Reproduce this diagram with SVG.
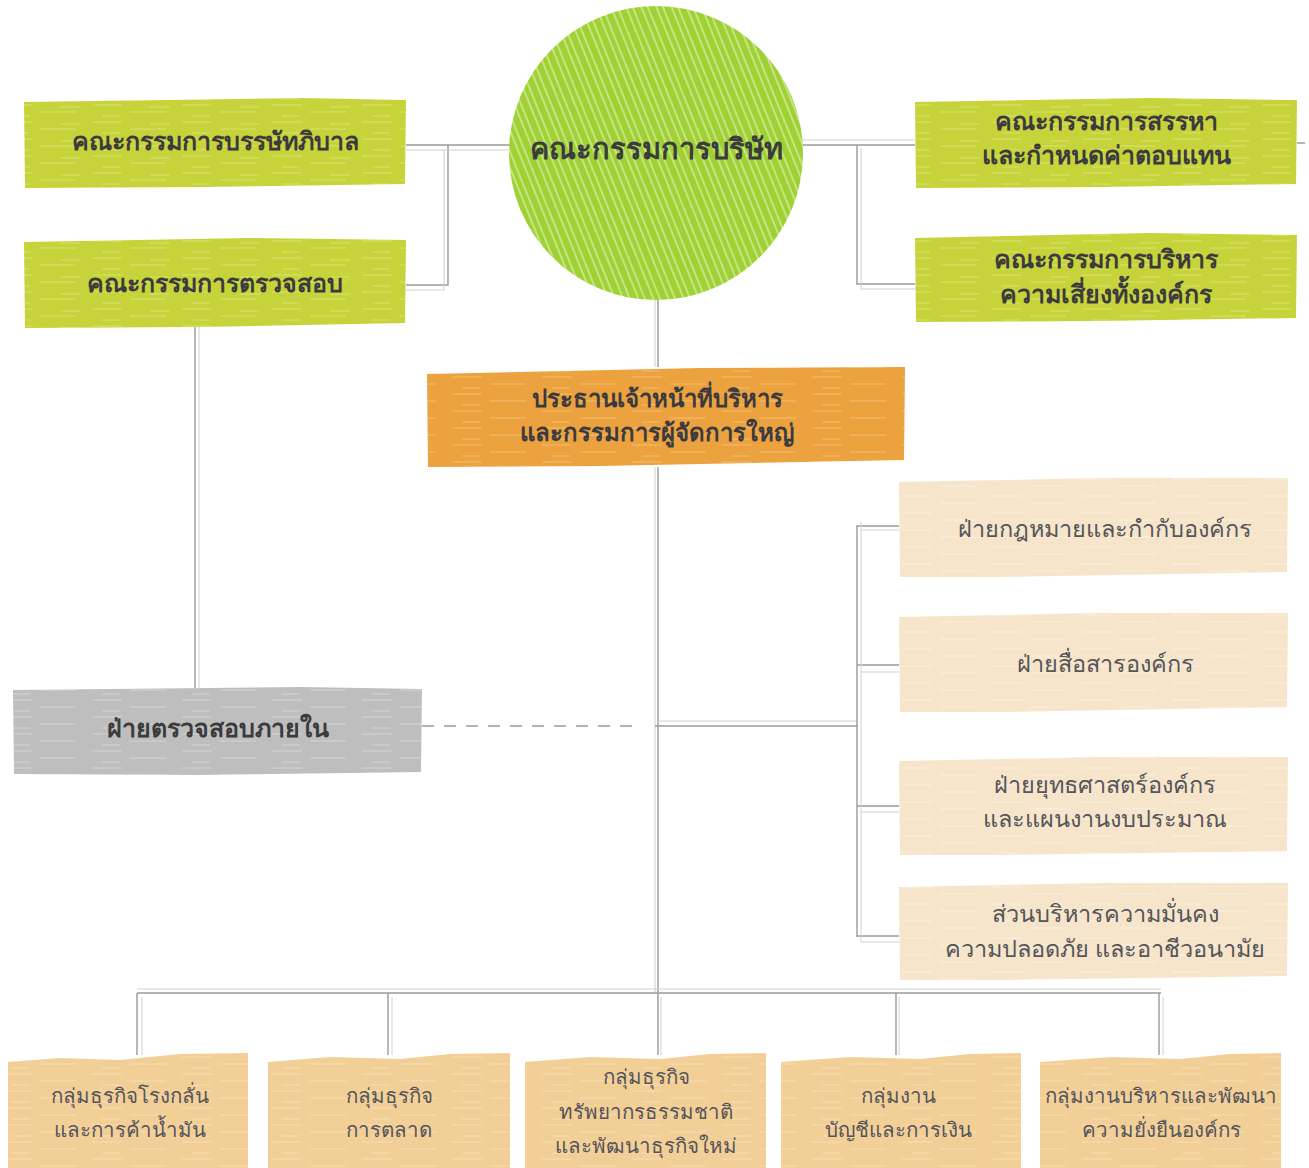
<svg xmlns="http://www.w3.org/2000/svg" width="1309" height="1168" viewBox="0 0 1309 1168">
<style>
.b{font-family:"Noto Sans","Liberation Sans",sans-serif;font-weight:700;font-size:25px;fill:#3b3b3f;text-anchor:middle}
.l{font-family:"Noto Sans","Liberation Sans",sans-serif;font-weight:300;font-size:23.5px;fill:#55555a;text-anchor:middle}
.s{font-family:"Noto Sans","Liberation Sans",sans-serif;font-weight:300;font-size:20.5px;fill:#55555a;text-anchor:middle}
.c{fill:none;stroke:#9a9a9a;stroke-width:1.4}
.c2{fill:none;stroke:#d0d0d0;stroke-width:1}
</style>
<defs>
<pattern id="streakG" width="90" height="17" patternUnits="userSpaceOnUse">
<rect width="90" height="17" fill="#c7d33a"/>
<path d="M2 3h30M40 10h36M12 14h18M60 5h20" stroke="#dde67c" stroke-width="1.6" opacity="0.55"/>
</pattern>
<pattern id="streakC" width="14" height="14" patternUnits="userSpaceOnUse" patternTransform="rotate(68)">
<rect width="14" height="14" fill="#9fd134"/>
<path d="M0 4h14M0 10h14" stroke="#e4f4bd" stroke-width="1.4" opacity="0.75"/>
</pattern>
<pattern id="streakO" width="90" height="17" patternUnits="userSpaceOnUse">
<rect width="90" height="17" fill="#eca23f"/>
<path d="M2 3h30M40 10h36M12 14h18" stroke="#f4c37c" stroke-width="1.6" opacity="0.55"/>
</pattern>
<pattern id="streakY" width="90" height="17" patternUnits="userSpaceOnUse">
<rect width="90" height="17" fill="#bebebe"/>
<path d="M2 3h30M40 10h36M12 14h18" stroke="#d6d6d6" stroke-width="1.6" opacity="0.55"/>
</pattern>
<pattern id="streakB" width="90" height="17" patternUnits="userSpaceOnUse">
<rect width="90" height="17" fill="#f6e5cb"/>
<path d="M2 3h30M40 10h36" stroke="#fbf0de" stroke-width="1.6" opacity="0.55"/>
</pattern>
<pattern id="streakT" width="90" height="17" patternUnits="userSpaceOnUse">
<rect width="90" height="17" fill="#f3cf98"/>
<path d="M2 3h30M40 10h36M12 14h18" stroke="#f8e0b8" stroke-width="1.6" opacity="0.55"/>
</pattern>
</defs>
<rect width="1309" height="1168" fill="#ffffff"/>

<g id="connectors">
<path class="c" d="M406 145H512M448 145V285H406"/>
<path class="c2" d="M406 150H512M444 150V290H406"/>
<path class="c" d="M802 145H915M857 145V284H915M1297 143H1305"/>
<path class="c2" d="M802 140H915M861 148V289H915"/>
<path class="c" d="M658 299V367M658 467V992"/>
<path class="c2" d="M655 299V367M655 467V992"/>
<path class="c" d="M195 327V688"/>
<path class="c2" d="M199 327V688"/>
<path class="c" d="M422 726H640" stroke-dasharray="12 10"/>
<path class="c" d="M655 726H858"/>
<path class="c2" d="M658 721H858"/>
<path class="c" d="M857 525V937M857 526H899M857 665H899M857 806H899M857 936H899"/>
<path class="c2" d="M861 522V942M861 530H899M861 672H899M861 812H899M861 942H899"/>
<path class="c" d="M137 993H1161M137 993V1055M388 993V1055M658 993V1055M896 993V1055M1159 993V1055"/>
<path class="c2" d="M137 989H1161M142 997V1055M392 997V1055M661 997V1055M899 997V1055M1163 997V1055"/>
</g>

<g id="n-governance">
<path d="M24 102L300 98L406 100L405 184L200 187L25 188Z" fill="url(#streakG)"/>
<text class="b" x="215" y="150">คณะกรรมการบรรษัทภิบาล</text>
</g>
<g id="n-audit">
<path d="M24 242L250 238L406 240L405 323L200 327L25 328Z" fill="url(#streakG)"/>
<text class="b" x="215" y="292">คณะกรรมการตรวจสอบ</text>
</g>
<g id="n-board">
<circle cx="656" cy="153" r="147" fill="url(#streakC)"/>
<text class="b" x="656" y="159" style="font-size:29px">คณะกรรมการบริษัท</text>
</g>
<g id="n-nomination">
<path d="M915 102L1150 98L1297 100L1296 184L1100 187L916 188Z" fill="url(#streakG)"/>
<text class="b" x="1106" y="130">คณะกรรมการสรรหา</text>
<text class="b" x="1106" y="164">และกำหนดค่าตอบแทน</text>
</g>
<g id="n-risk">
<path d="M915 238L1150 233L1297 235L1296 318L1100 321L916 322Z" fill="url(#streakG)"/>
<text class="b" x="1106" y="268">คณะกรรมการบริหาร</text>
<text class="b" x="1106" y="303">ความเสี่ยงทั้งองค์กร</text>
</g>
<g id="n-ceo">
<path d="M427 374L700 368L905 367L904 460L600 466L428 467Z" fill="url(#streakO)"/>
<text class="b" x="657" y="407" style="font-size:24px">ประธานเจ้าหน้าที่บริหาร</text>
<text class="b" x="657" y="441" style="font-size:24px">และกรรมการผู้จัดการใหญ่</text>
</g>
<g id="n-internal-audit">
<path d="M13 690L300 687L422 689L421 772L200 775L14 774Z" fill="url(#streakY)"/>
<text class="b" x="218" y="737">ฝ่ายตรวจสอบภายใน</text>
</g>
<g id="n-legal">
<path d="M899 482L1100 478L1288 478L1287 572L1000 577L900 577Z" fill="url(#streakB)"/>
<text class="l" x="1105" y="537">ฝ่ายกฎหมายและกำกับองค์กร</text>
</g>
<g id="n-comm">
<path d="M899 617L1100 613L1288 613L1287 707L1000 712L900 712Z" fill="url(#streakB)"/>
<text class="l" x="1105" y="672">ฝ่ายสื่อสารองค์กร</text>
</g>
<g id="n-strategy">
<path d="M899 761L1100 757L1288 757L1287 851L1000 855L900 855Z" fill="url(#streakB)"/>
<text class="l" x="1105" y="793">ฝ่ายยุทธศาสตร์องค์กร</text>
<text class="l" x="1105" y="827">และแผนงานงบประมาณ</text>
</g>
<g id="n-security">
<path d="M899 887L1100 883L1288 883L1287 976L1000 980L900 980Z" fill="url(#streakB)"/>
<text class="l" x="1105" y="922">ส่วนบริหารความมั่นคง</text>
<text class="l" x="1105" y="957">ความปลอดภัย และอาชีวอนามัย</text>
</g>
<g id="n-refinery">
<path d="M8 1062L60 1058L120 1060L180 1054L248 1053L248 1168L8 1168Z" fill="url(#streakT)"/>
<text class="s" x="130" y="1103">กลุ่มธุรกิจโรงกลั่น</text>
<text class="s" x="130" y="1137">และการค้าน้ำมัน</text>
</g>
<g id="n-marketing">
<path d="M268 1062L330 1057L400 1059L450 1054L510 1053L510 1168L268 1168Z" fill="url(#streakT)"/>
<text class="s" x="389" y="1103">กลุ่มธุรกิจ</text>
<text class="s" x="389" y="1137">การตลาด</text>
</g>
<g id="n-resources">
<path d="M525 1062L590 1057L660 1059L710 1054L766 1053L766 1168L525 1168Z" fill="url(#streakT)"/>
<text class="s" x="646" y="1084">กลุ่มธุรกิจ</text>
<text class="s" x="646" y="1119">ทรัพยากรธรรมชาติ</text>
<text class="s" x="646" y="1153">และพัฒนาธุรกิจใหม่</text>
</g>
<g id="n-finance">
<path d="M781 1062L850 1057L920 1059L970 1054L1021 1053L1021 1168L781 1168Z" fill="url(#streakT)"/>
<text class="s" x="898" y="1103">กลุ่มงาน</text>
<text class="s" x="898" y="1137">บัญชีและการเงิน</text>
</g>
<g id="n-sustain">
<path d="M1040 1062L1110 1057L1180 1059L1230 1054L1281 1053L1281 1168L1040 1168Z" fill="url(#streakT)"/>
<text class="s" x="1161" y="1103">กลุ่มงานบริหารและพัฒนา</text>
<text class="s" x="1161" y="1137">ความยั่งยืนองค์กร</text>
</g>
</svg>
